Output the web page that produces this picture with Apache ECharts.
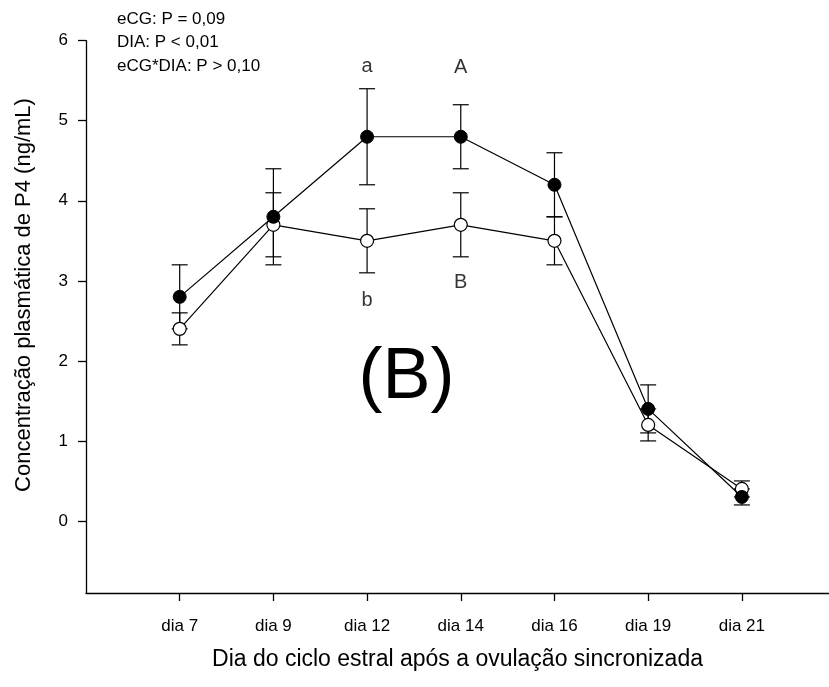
<!DOCTYPE html>
<html>
<head>
<meta charset="utf-8">
<script src="https://cdn.jsdelivr.net/npm/echarts@6/dist/echarts.min.js"></script>
<style>
html,body{margin:0;padding:0;background:#fff;}
#chart{width:829px;height:687px;}
</style>
</head>
<body>
<div id="chart"></div>
<script>
// ---- data ----
const categories = ['dia 7', 'dia 9', 'dia 12', 'dia 14', 'dia 16', 'dia 19', 'dia 21'];
const filledMean = [2.8, 3.8, 4.8, 4.8, 4.2, 1.4, 0.3];
const filledErr  = [0.4, 0.6, 0.6, 0.4, 0.4, 0.3, 0.1];
const openMean   = [2.4, 3.7, 3.5, 3.7, 3.5, 1.2, 0.4];
const openErr    = [0.2, 0.4, 0.4, 0.4, 0.3, 0.2, 0.1];
const yTicks = [0, 1, 2, 3, 4, 5, 6];
const letterLabels = ['a', 'A', 'b', 'B'];
const letterCat    = ['dia 12', 'dia 14', 'dia 12', 'dia 14'];
const letterY      = [5.68, 5.67, 2.76, 2.98];
const statsText = ['eCG: P = 0,09', 'DIA: P < 0,01', 'eCG*DIA: P > 0,10'];
const panelLabel = '(B)';
const xTitle = 'Dia do ciclo estral após a ovulação sincronizada';
const yTitle = 'Concentração plasmática de P4 (ng/mL)';

// ---- build ----
const FONT = '"Liberation Sans", Arial, sans-serif';
const xPos = categories.map((c, i) => i + 1);
const pts = (m) => m.map((v, i) => [xPos[i], v]);
const errs = (m, e) => m.map((v, i) => [xPos[i], v - e[i], v + e[i]]);

function errRender(params, api) {
  const x = api.value(0), lo = api.value(1), hi = api.value(2);
  const a = api.coord([x, hi]), b = api.coord([x, lo]);
  const hw = 8;
  const st = { stroke: '#000', lineWidth: 1.2 };
  return {
    type: 'group',
    children: [
      { type: 'line', shape: { x1: a[0], y1: a[1], x2: b[0], y2: b[1] }, style: st },
      { type: 'line', shape: { x1: a[0] - hw, y1: a[1], x2: a[0] + hw, y2: a[1] }, style: st },
      { type: 'line', shape: { x1: b[0] - hw, y1: b[1], x2: b[0] + hw, y2: b[1] }, style: st }
    ]
  };
}

const chart = echarts.init(document.getElementById('chart'), null, { renderer: 'canvas' });
chart.setOption({
  animation: false,
  backgroundColor: '#fff',
  textStyle: { fontFamily: FONT },
  grid: { left: 86, right: 0, top: 40.7, bottom: 94, containLabel: false },
  xAxis: {
    type: 'value', min: 0, max: 7.93,
    name: xTitle,
    nameLocation: 'middle', nameGap: 55,
    nameTextStyle: { fontSize: 23, color: '#000', fontFamily: FONT },
    axisLine: { onZero: false, lineStyle: { color: '#000', width: 1.3 } },
    axisTick: { show: true, length: 8, customValues: xPos, lineStyle: { color: '#000', width: 1.3 } },
    axisLabel: {
      customValues: xPos, margin: 25, fontSize: 17, color: '#000', fontFamily: FONT,
      formatter: (v) => categories[Math.round(v) - 1] || ''
    },
    splitLine: { show: false }
  },
  yAxis: {
    type: 'value', min: -0.9, max: 6,
    axisLine: { show: true, onZero: false, lineStyle: { color: '#000', width: 1.3 } },
    axisTick: { show: true, length: 8, customValues: yTicks, lineStyle: { color: '#000', width: 1.3 } },
    axisLabel: { customValues: yTicks, margin: 18, fontSize: 17, color: '#000', fontFamily: FONT },
    splitLine: { show: false }
  },
  series: [
    { type: 'custom', name: 'errOpen', renderItem: errRender, data: errs(openMean, openErr), encode: { x: 0, y: [1, 2] }, z: 1 },
    { type: 'custom', name: 'errFilled', renderItem: errRender, data: errs(filledMean, filledErr), encode: { x: 0, y: [1, 2] }, z: 1 },
    {
      type: 'line', name: 'open', data: pts(openMean), z: 3,
      symbol: 'circle', symbolSize: 13,
      lineStyle: { color: '#000', width: 1.2 },
      itemStyle: { color: '#fff', borderColor: '#000', borderWidth: 1.2 }
    },
    {
      type: 'line', name: 'filled', data: pts(filledMean), z: 4,
      symbol: 'circle', symbolSize: 13,
      lineStyle: { color: '#000', width: 1.2 },
      itemStyle: { color: '#000', borderColor: '#000', borderWidth: 1 }
    },
    {
      type: 'scatter', name: 'letters', z: 5, symbolSize: 1,
      itemStyle: { color: 'rgba(0,0,0,0)' },
      data: letterLabels.map((t, i) => ({ name: t, value: [xPos[categories.indexOf(letterCat[i])], letterY[i]] })),
      label: { show: true, position: 'inside', formatter: (p) => p.name, fontSize: 20, color: '#000', fontFamily: FONT }
    }
  ],
  graphic: [
    {
      type: 'text', x: 117, y: 7.25,
      style: { text: statsText.join('\n'), fontSize: 17, fontFamily: FONT, lineHeight: 23.5, fill: '#000' }
    },
    {
      type: 'text', x: 24, y: 295, rotation: Math.PI / 2,
      style: { text: yTitle, fontSize: 22, fontFamily: FONT, fill: '#000', align: 'center', verticalAlign: 'middle' }
    }
  ]
});

// panel label anchored at data coordinates (between dia 12 and dia 14)
const pl = chart.convertToPixel({ gridIndex: 0 }, [3.42, 1.78]);
chart.setOption({
  graphic: [
    {}, {},
    { type: 'text', x: pl[0], y: pl[1],
      style: { text: panelLabel, fontSize: 72, fontFamily: FONT, fill: '#000', align: 'center', verticalAlign: 'middle' } }
  ]
});
</script>
</body>
</html>
